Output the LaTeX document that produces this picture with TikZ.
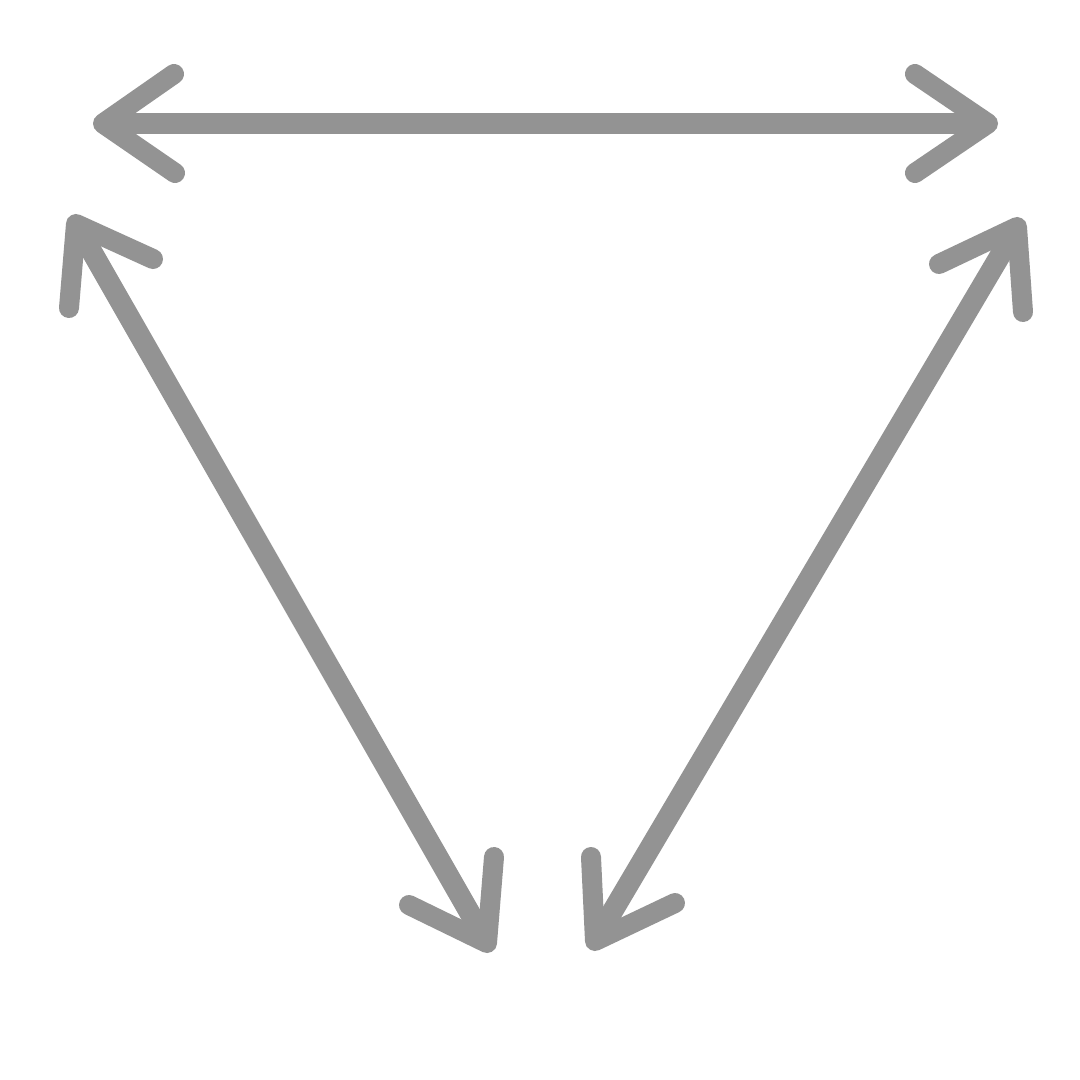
\documentclass[tikz,border=0pt]{standalone}
\definecolor{arr}{HTML}{939393}
\begin{document}
\begin{tikzpicture}[x=1pt,y=-1pt,
  headline/.style={draw=arr,line width=20pt,line cap=round,line join=round},
  shaftline/.style={draw=arr,line width=21pt,shorten <=6pt,shorten >=6pt}]
\useasboundingbox (0,0) rectangle (1080,1080);
% horizontal arrow
\coordinate (hL) at (103,123.5);
\coordinate (hLa) at (174,74);
\coordinate (hLb) at (175,173);
\coordinate (hR) at (988,123.5);
\coordinate (hRa) at (915,74);
\coordinate (hRb) at (915,173);
% left diagonal arrow
\coordinate (lT) at (76,224);
\coordinate (lTa) at (69,308);
\coordinate (lTb) at (153,259);
\coordinate (lB) at (487,943);
\coordinate (lBa) at (494,857);
\coordinate (lBb) at (409,905);
% right diagonal arrow
\coordinate (rT) at (1017,227);
\coordinate (rTa) at (939,264);
\coordinate (rTb) at (1023,312);
\coordinate (rB) at (595,941);
\coordinate (rBa) at (591,857);
\coordinate (rBb) at (675,903);
% shafts
\draw[shaftline] (hL) -- (hR);
\draw[shaftline] (lT) -- (lB);
\draw[shaftline] (rT) -- (rB);
% heads
\draw[headline] (hLa) -- (hL) -- (hLb);
\draw[headline] (hRa) -- (hR) -- (hRb);
\draw[headline] (lTa) -- (lT) -- (lTb);
\draw[headline] (lBa) -- (lB) -- (lBb);
\draw[headline] (rTa) -- (rT) -- (rTb);
\draw[headline] (rBa) -- (rB) -- (rBb);
\end{tikzpicture}
\end{document}
